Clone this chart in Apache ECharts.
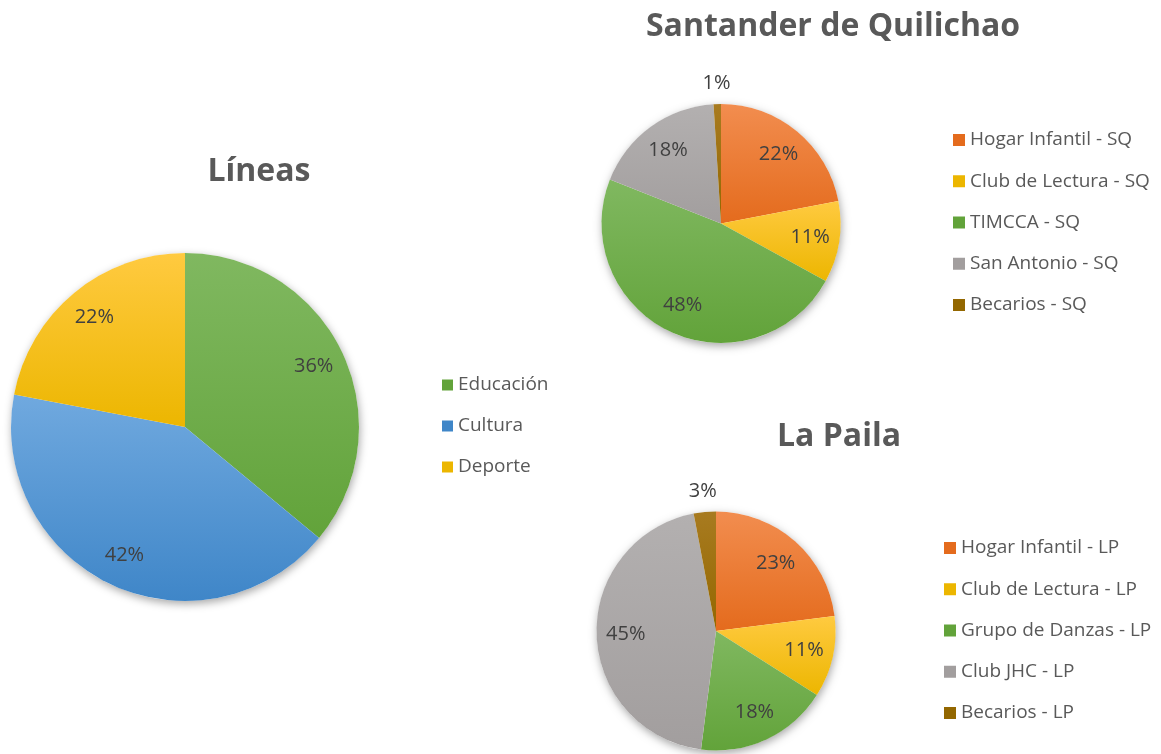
<!DOCTYPE html>
<html>
<head>
<meta charset="utf-8">
<script src="https://cdn.jsdelivr.net/npm/echarts@6/dist/echarts.min.js"></script>
<style>
  html, body { margin: 0; padding: 0; background: #fff; }
  #chart { width: 1161px; height: 754px; }
</style>
</head>
<body>
<div id="chart"></div>
<script>
// data
const lineasNames = ['Educación', 'Cultura', 'Deporte'];
const lineasValues = [36, 42, 22];

const sqNames = ['Hogar Infantil - SQ', 'Club de Lectura - SQ', 'TIMCCA - SQ', 'San Antonio - SQ', 'Becarios - SQ'];
const sqValues = [22, 11, 48, 18, 1];

const lpNames = ['Hogar Infantil - LP', 'Club de Lectura - LP', 'Grupo de Danzas - LP', 'Club JHC - LP', 'Becarios - LP'];
const lpValues = [23, 11, 18, 45, 3];

// [top, bottom] of each slice gradient
const GREEN = ['#80b860', '#62a33a'];
const BLUE = ['#70a9df', '#3f86c8'];
const GOLD = ['#ffca40', '#ecb600'];
const ORANGE = ['#f28d4f', '#e46b1d'];
const GREY = ['#b3b0b0', '#a29e9e'];
const BROWN = ['#a87b20', '#936700'];

const lineasColors = [GREEN, BLUE, GOLD];
const sqColors = [ORANGE, GOLD, GREEN, GREY, BROWN];
const lpColors = [ORANGE, GOLD, GREEN, GREY, BROWN];

const FONT = '"Open Sans", "Noto Sans", sans-serif';
const LABEL_COLOR = '#404040';
const TEXT_COLOR = '#595959';

const chart = echarts.init(document.getElementById('chart'));

const grad = (c) => new echarts.graphic.LinearGradient(0, 0, 0, 1, [
  {offset: 0, color: c[0]},
  {offset: 1, color: c[1]}
]);

// builds shadow disc + pie + label rings for one chart
const pieSet = (names, values, colors, center, R, labelPos) => {
  const isTiny = (v) => v < 5;
  const base = {
    type: 'pie',
    center: center,
    startAngle: 90,
    clockwise: true,
    silent: true,
    animation: false,
    emphasis: {disabled: true},
    labelLine: {show: false}
  };
  const inner = R * (2 * labelPos - 1);
  const label = {position: 'inside', formatter: '{c}%', color: LABEL_COLOR, fontSize: 20, fontFamily: FONT};
  return [
    Object.assign({}, base, {
      radius: R,
      label: {show: false},
      data: [{value: 1, name: '', itemStyle: {color: '#fff', shadowBlur: 9, shadowColor: 'rgba(0,0,0,0.35)', shadowOffsetY: 3, shadowOffsetX: 1}}]
    }),
    Object.assign({}, base, {
      radius: R,
      label: {show: false},
      itemStyle: {borderWidth: 0},
      data: names.map((n, i) => ({name: n, value: values[i], itemStyle: {color: grad(colors[i])}}))
    }),
    Object.assign({}, base, {
      radius: [inner, R],
      itemStyle: {color: 'transparent', borderWidth: 0},
      label: label,
      data: names.map((n, i) => ({name: n, value: values[i], label: {show: !isTiny(values[i])}}))
    }),
    Object.assign({}, base, {
      radius: [R, R + 36],
      itemStyle: {color: 'transparent', borderWidth: 0},
      label: label,
      data: names.map((n, i) => ({name: n, value: values[i], label: {show: isTiny(values[i])}}))
    })
  ];
};

const legendFor = (names, colors, left, top, gap, w) => ({
  orient: 'vertical',
  left: left,
  top: top,
  padding: 0,
  icon: 'rect',
  itemWidth: w,
  itemHeight: w,
  itemGap: gap,
  selectedMode: false,
  textStyle: {color: TEXT_COLOR, fontSize: 19, fontFamily: FONT, lineHeight: 20},
  data: names.map((n, i) => ({name: n, itemStyle: {color: colors[i][1]}}))
});

const titles = [
  {text: 'Líneas', x: 259, y: 172},
  {text: 'Santander de Quilichao', x: 833, y: 27},
  {text: 'La Paila', x: 839, y: 437}
];

chart.setOption({
  backgroundColor: '#fff',
  animation: false,
  graphic: titles.map(t => ({
    type: 'text',
    x: t.x,
    y: t.y,
    style: {
      text: t.text,
      fill: TEXT_COLOR,
      font: 'bold 32px ' + FONT,
      textAlign: 'center',
      textVerticalAlign: 'middle'
    }
  })),
  legend: [
    legendFor(lineasNames, lineasColors, 442, 375, 21, 11),
    legendFor(sqNames, sqColors, 953, 130, 21.25, 12),
    legendFor(lpNames, lpColors, 944, 538, 21.25, 12)
  ],
  series: [].concat(
    pieSet(lineasNames, lineasValues, lineasColors, [185, 427], 174, 0.8),
    pieSet(sqNames, sqValues, sqColors, [721, 223.5], 119.5, 0.73),
    pieSet(lpNames, lpValues, lpColors, [716, 631], 119.5, 0.73)
  )
});

window.addEventListener('resize', () => chart.resize());
</script>
</body>
</html>
